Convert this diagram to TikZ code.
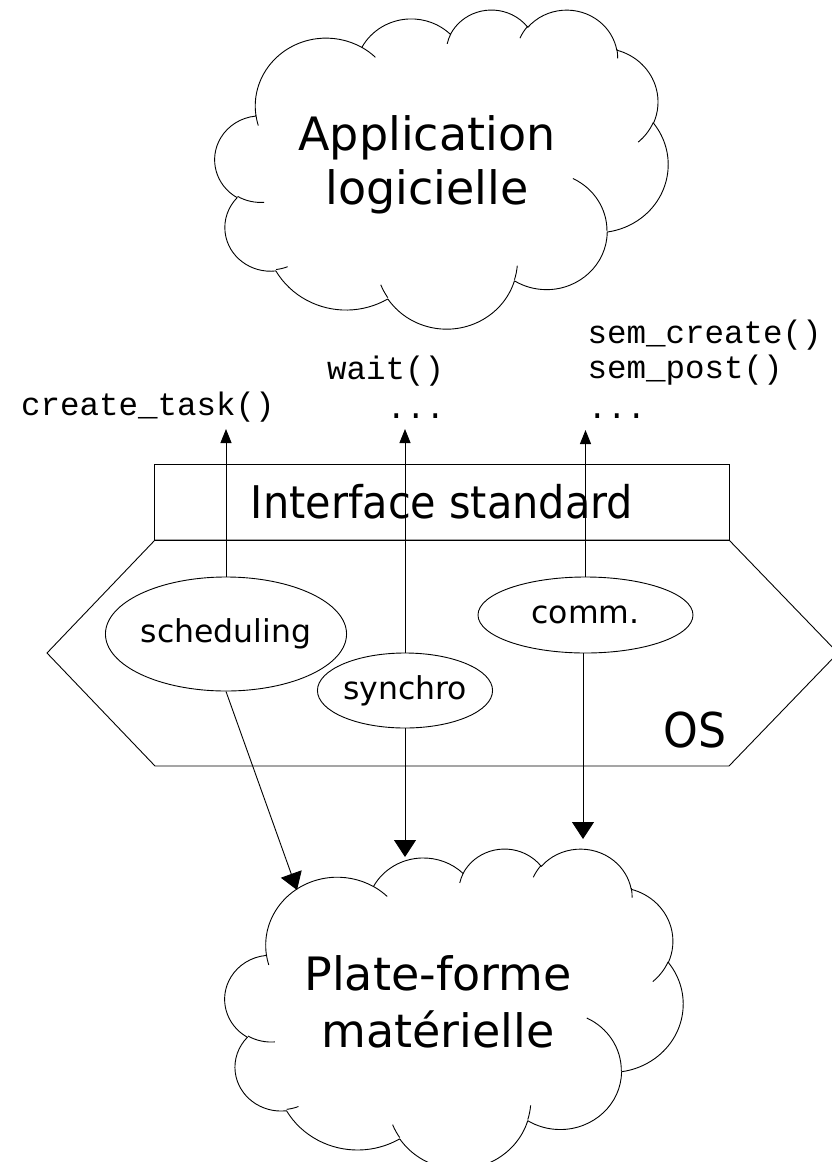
\documentclass[tikz,border=0pt]{standalone}
\usepackage{fontspec}
\setmainfont{DejaVu Sans}
\newfontfamily\codefont{Liberation Mono}
\newfontfamily\narrowsans[FakeStretch=0.92]{DejaVu Sans}
\usetikzlibrary{shapes.geometric,arrows.meta}

% Parametric angle of the point seen under visual angle #1 on an ellipse
% with radii #2 (x) and #3 (y).
\pgfmathdeclarefunction{vpar}{3}{%
  \begingroup
    \pgfmathparse{(#1)+mod(atan2((#2)*sin(#1),(#3)*cos(#1))-(#1)+900,360)-180}%
    \pgfmathsmuggle\pgfmathresult
  \endgroup}

% \mkcloudarc{name}{rx}{ry}{start}{sweep}: stores an arc path piece
\newcommand\mkcloudarc[5]{%
  \pgfmathsetmacro\clS{vpar(#4,#2,#3)}%
  \pgfmathsetmacro\clE{vpar(#4+#5,#2,#3)}%
  \expandafter\xdef\csname cloudarc#1\endcsname{arc[start angle=\clS,end angle=\clE,x radius=#2,y radius=#3]}}

% outline lobes (cloud box is 432 x 432 units)
\mkcloudarc{A}{67.53}{91.90}{-190.487483}{123.780533}
\mkcloudarc{B}{53.33}{72.67}{-144.102383}{89.945233}
\mkcloudarc{C}{43.65}{59.45}{-145.807917}{99.723017}
\mkcloudarc{D}{48.57}{65.95}{-130.986067}{117.241733}
\mkcloudarc{E}{53.33}{72.73}{-78.708883}{109.026917}
\mkcloudarc{F}{67.75}{92.20}{-46.26725}{130.269}
\mkcloudarc{G}{57.85}{78.67}{0.625017}{114.033333}
\mkcloudarc{H}{67.52}{92.15}{22.4516}{115.17255}
\mkcloudarc{I}{77.20}{105.43}{66.242633}{75.711017}
\mkcloudarc{J}{43.60}{59.18}{-274.942083}{146.735567}
\mkcloudarc{K}{43.45}{59.45}{-246.8285}{152.51885}
% inner lobe strokes
\mkcloudarc{a}{43.45}{59.45}{86.742}{26.4295}
\mkcloudarc{b}{43.60}{59.18}{73.610467}{11.447467}
\mkcloudarc{c}{67.52}{92.15}{137.62415}{14.0811}
\mkcloudarc{d}{67.52}{92.15}{6.453267}{15.99835}
\mkcloudarc{e}{57.85}{78.67}{-70.29235}{70.917367}
\mkcloudarc{f}{53.33}{72.73}{30.318033}{27.7515}
\mkcloudarc{g}{48.57}{65.95}{-13.744333}{14.8589}
\mkcloudarc{h}{48.57}{65.95}{-149.18145}{18.195367}
\mkcloudarc{i}{43.65}{59.45}{-163.494267}{16.854867}
\mkcloudarc{j}{67.53}{91.90}{-66.70695}{12.31935}
\mkcloudarc{k}{67.53}{91.90}{157.65435}{11.858167}

% \drawcloud{left}{top}{x unit}{y unit}
\newcommand\drawcloud[4]{%
  \begin{scope}[shift={(#1,#2)},x=#3,y=#4]
    \draw[cloudline] (39.00,143.70) \cloudarcA\cloudarcB\cloudarcC\cloudarcD
      \cloudarcE\cloudarcF\cloudarcG\cloudarcH\cloudarcI\cloudarcJ\cloudarcK -- cycle;
    \draw[cloudline]
      (46.93,261.77) \cloudarca (69.28,348.99) \cloudarcb
      (164.78,390.90) \cloudarcc (288.27,347.51) \cloudarcd
      (341.29,229.54) \cloudarce (417.98,153.54) \cloudarcf
      (383.24,54.26) \cloudarcg (290.78,39.52) \cloudarch
      (221.41,47.20) \cloudarci (140.00,51.92) \cloudarcj
      (41.27,157.89) \cloudarck;
  \end{scope}}

\tikzset{
  thinline/.style={line width=0.9pt},
  cloudline/.style={thinline, line join=round},
  uparrow/.style={thinline, -{Triangle[width=11pt,length=14pt]}},
  downarrow/.style={thinline, -{Triangle[width=22pt,length=17pt]}},
  oval/.style={ellipse, draw, thinline, inner sep=0pt,
    font=\fontsize{31.5}{36}\selectfont},
  codetext/.style={inner sep=0pt, anchor=base west,
    font=\codefont\fontsize{32.5}{38}\selectfont},
  cloudtext/.style={inner sep=0pt, anchor=base,
    font=\fontsize{46}{56}\selectfont},
  bigtext/.style={inner sep=0pt, anchor=base,
    font=\narrowsans\fontsize{48}{56}\selectfont}
}

\begin{document}
\begin{tikzpicture}[x=1pt,y=-1pt]
  \fill[white] (0,0) rectangle (831,1162);
  \useasboundingbox (0,0) rectangle (831,1162);

  % software cloud
  \drawcloud{215}{9}{1.04861pt}{-0.73843pt}
  \node[cloudtext] (app1) at (427,150) {Application};
  \node[cloudtext] (app2) at (427,204) {logicielle};

  % API calls
  \node[codetext] (ct) at (21,415) {create\_task()};
  \node[codetext] (wt) at (327,379) {wait()};
  \node[codetext] (wd) at (386.5,418) {...};
  \node[codetext] (sc) at (587.5,343) {sem\_create()};
  \node[codetext] (sp) at (587.5,378) {sem\_post()};
  \node[codetext] (sd) at (587.5,418) {...};

  % standard interface and OS
  \node[draw, thinline, rectangle, minimum width=575pt, minimum height=76pt,
        inner sep=0pt, font=\narrowsans\fontsize{45}{56}\selectfont]
        (iface) at (442,502) {Interface standard};
  \draw[thinline, line join=miter]
    (155,540) -- (729,540) -- (838,653) -- (729,766) -- (155,766) -- (47,653) -- cycle;
  \node[bigtext] (os) at (695,747) {OS};

  \node[oval, minimum width=216pt, minimum height=114pt] (sched) at (226,634) {scheduling};
  \node[oval, minimum width=144pt, minimum height=75pt] (sync) at (405,690.5) {synchro};
  \node[oval, minimum width=215pt, minimum height=76pt] (comm) at (585.5,615) {comm.};

  % hardware cloud
  \drawcloud{225}{848}{1.06019pt}{-0.74074pt}
  \node[cloudtext] (hw1) at (438,990) {Plate-forme};
  \node[cloudtext] (hw2) at (438,1047) {matérielle};

  % arrow end points
  \coordinate (tipA) at (227,429);
  \coordinate (tipB) at (405,429);
  \coordinate (tipC) at (586,430);
  \coordinate (hwA) at (297,890);
  \coordinate (hwB) at (404,857);
  \coordinate (hwC) at (583,839);

  \draw[uparrow] (sched.north) -- (sched.north |- tipA);
  \draw[uparrow] (sync.north) -- (sync.north |- tipB);
  \draw[uparrow] (comm.north) -- (comm.north |- tipC);

  \draw[downarrow] (sched.south) -- (hwA);
  \draw[downarrow] (sync.south) -- (sync.south |- hwB);
  \draw[downarrow] (hwC |- comm.south) -- (hwC);
\end{tikzpicture}
\end{document}
